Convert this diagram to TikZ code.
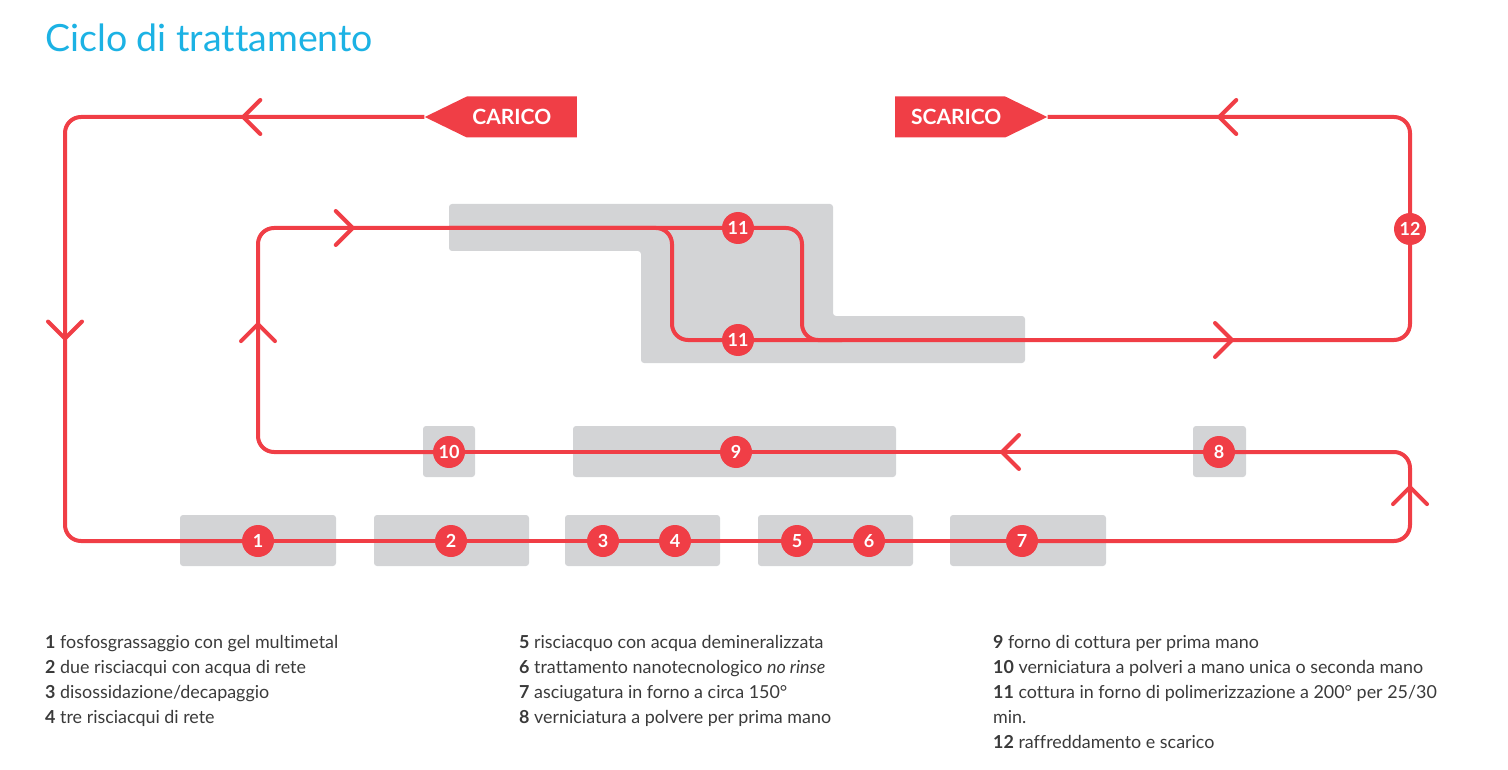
\documentclass[tikz,border=0pt]{standalone}
\usepackage{fontspec}
\setmainfont{Lato}[Ligatures=NoCommon]
\usetikzlibrary{arrows.meta, decorations.markings, shapes.symbols}

\definecolor{flowred}{RGB}{240,62,70}
\definecolor{baygray}{RGB}{211,212,214}
\definecolor{titleblue}{RGB}{28,178,228}
\definecolor{legendgray}{RGB}{58,58,58}

\pgfdeclarelayer{boxes}
\pgfdeclarelayer{lines}
\pgfsetlayers{boxes,lines,main}

\tikzset{
  chev/.tip={Straight Barb[length=17pt,width=34pt,round]},
  bay/.style={fill=baygray, rounded corners=3pt, minimum height=51pt, inner sep=0pt},
  stop/.style={circle, fill=flowred, text=white, minimum size=32pt, inner sep=0pt,
    font=\fontsize{18}{18}\selectfont\bfseries},
  tag/.style={signal, signal pointer angle=52, fill=flowred, text=white,
    minimum height=41pt, text width=100pt, align=center, inner xsep=5pt, inner ysep=0pt,
    font=\fontsize{21}{21}\selectfont\bfseries},
  flow/.style={draw, color=flowred, line width=4pt, rounded corners=16pt, line join=round},
  mid/.style={postaction={decorate, decoration={markings,
    mark=at position #1 with {\arrow{chev}}}}},
  legend/.style={anchor=base west, inner sep=0pt, text=legendgray,
    font=\fontsize{17.9}{25}\selectfont},
}

\begin{document}
\begin{tikzpicture}[x=1pt, y=-1pt]
  \useasboundingbox (0,0) rectangle (1508,770);

  \node[anchor=base west, inner sep=0pt, text=titleblue, font=\fontsize{37.5}{37.5}\selectfont]
    (title) at (45,52) {Ciclo di trattamento};

  % bays of the plant
  \begin{pgfonlayer}{boxes}
    \foreach \n/\x/\y/\w in {1/258/540.5/156, 2/451.5/540.5/155, 34/642.5/540.5/155,
        56/835.5/540.5/155, 7/1028/540.5/156, 10/449/451.5/52, 9/734.5/451.5/323,
        8/1219.5/451.5/53}
      \node[bay, minimum width=\w pt] (b\n) at (\x,\y) {};
    % oven 11
    \fill[baygray, rounded corners=3pt] (449,204) -- (833,204) -- (833,316) -- (1025,316)
      -- (1025,363) -- (641,363) -- (641,251) -- (449,251) -- cycle;
  \end{pgfonlayer}

  % stations
  \foreach \n/\x/\y in {1/258/541, 2/451/541, 3/603/541, 4/675/541, 5/797/541, 6/869/541,
      7/1022/541, 8/1219/452, 9/736/452, 10/449/452, 12/1410/229}
    \node[stop] (s\n) at (\x,\y) {\n};
  \node[stop] (s11a) at (738,228) {11};
  \node[stop] (s11b) at (738,340) {11};

  \node[tag, signal to=west, anchor=east] (carico) at (577,117) {\hspace*{-20pt}CARICO};
  \node[tag, signal to=east, anchor=west] (scarico) at (895,117) {SCARICO\hspace*{-12pt}};

  \coordinate (nw) at (65,117);
  \coordinate (splitl) at (672,228);
  \coordinate (splitr) at (802,228);

  % conveyor
  \begin{pgfonlayer}{lines}
    \draw[flow, mid=183pt, mid=576pt] (carico.west) -- (nw) -- (nw |- s1) -- (s1.center);
    \draw[flow] (s1.center) -- (s7.center);
    \draw[flow, mid=437pt] (s7.center) -- (s12 |- s7) -- (s12 |- s8) -- (s8.center);
    \draw[flow, mid=219pt] (s8.center) -- (s10.center);
    \draw[flow, mid=314pt, mid=498pt] (s10.center) -- (s1 |- s10) -- (s1 |- s11a) -- (s11a.center);
    \draw[flow] (splitl -| b10) -- (splitl) -- (splitl |- s11b) -- (s11b.center);
    \draw[flow] (s11a.center) -- (splitr) -- (splitr |- s11b) -- ++(40,0);
    \draw[flow, mid=496pt, mid=1074pt] (s11b.center) -- (s12 |- s11b) -- (s12.center)
      -- (s12 |- carico) -- (scarico.east);
  \end{pgfonlayer}

  % legend
  \foreach \n/\x/\y/\t in {1/45/648/{fosfosgrassaggio con gel multimetal},
      2/45/673/{due risciacqui con acqua di rete},
      3/45/698/{disossidazione/decapaggio},
      4/45/723/{tre risciacqui di rete},
      5/519/648/{risciacquo con acqua demineralizzata},
      6/519/673/{trattamento nanotecnologico \textit{no rinse}},
      7/519/698/{asciugatura in forno a circa 150°},
      8/519/723/{verniciatura a polvere per prima mano},
      9/993/648/{forno di cottura per prima mano},
      10/993/673/{verniciatura a polveri a mano unica o seconda mano},
      11/993/698/{cottura in forno di polimerizzazione a 200° per 25/30},
      12/993/748/{raffreddamento e scarico}}
    \node[legend] (l\n) at (\x,\y) {\textbf{\n} \t};
  \node[legend] (l11b) at (993,723) {min.};
\end{tikzpicture}
\end{document}
